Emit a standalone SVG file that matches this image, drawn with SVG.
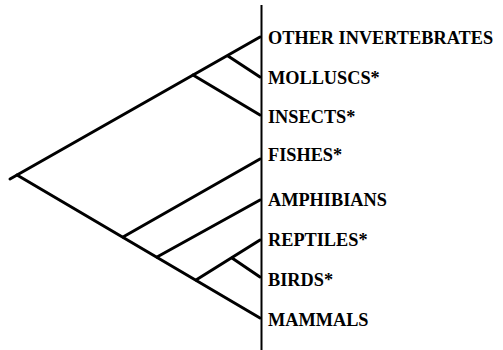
<svg xmlns="http://www.w3.org/2000/svg" width="503" height="350" viewBox="0 0 503 350">
<style>
.e{stroke:#000;stroke-width:3;fill:none;stroke-linecap:round}
.v{stroke:#000;stroke-width:2;fill:none}
.t{font-family:"Liberation Serif","Times New Roman",serif;font-weight:bold;font-size:18.3px;fill:#000}
</style>
<rect width="503" height="350" fill="#fff"/>
<g id="connectors">
<line class="v" x1="261.5" y1="5" x2="261.5" y2="350"/>
<line class="e" x1="10" y1="179" x2="260" y2="37"/>
<line class="e" x1="193" y1="75" x2="260" y2="115"/>
<line class="e" x1="228" y1="56" x2="260" y2="77"/>
<line class="e" x1="17" y1="175" x2="260" y2="318"/>
<line class="e" x1="123" y1="237" x2="260" y2="159"/>
<line class="e" x1="157" y1="257" x2="260" y2="200"/>
<line class="e" x1="196" y1="280" x2="260" y2="240"/>
<line class="e" x1="232" y1="258" x2="260" y2="277"/>
</g>
<g id="other-invertebrates"><text class="t" x="268" y="44">OTHER INVERTEBRATES</text></g>
<g id="molluscs"><text class="t" x="268" y="84">MOLLUSCS*</text></g>
<g id="insects"><text class="t" x="268" y="123">INSECTS*</text></g>
<g id="fishes"><text class="t" x="268" y="161">FISHES*</text></g>
<g id="amphibians"><text class="t" x="268" y="206">AMPHIBIANS</text></g>
<g id="reptiles"><text class="t" x="268" y="246">REPTILES*</text></g>
<g id="birds"><text class="t" x="268" y="286">BIRDS*</text></g>
<g id="mammals"><text class="t" x="268" y="326">MAMMALS</text></g>
</svg>
